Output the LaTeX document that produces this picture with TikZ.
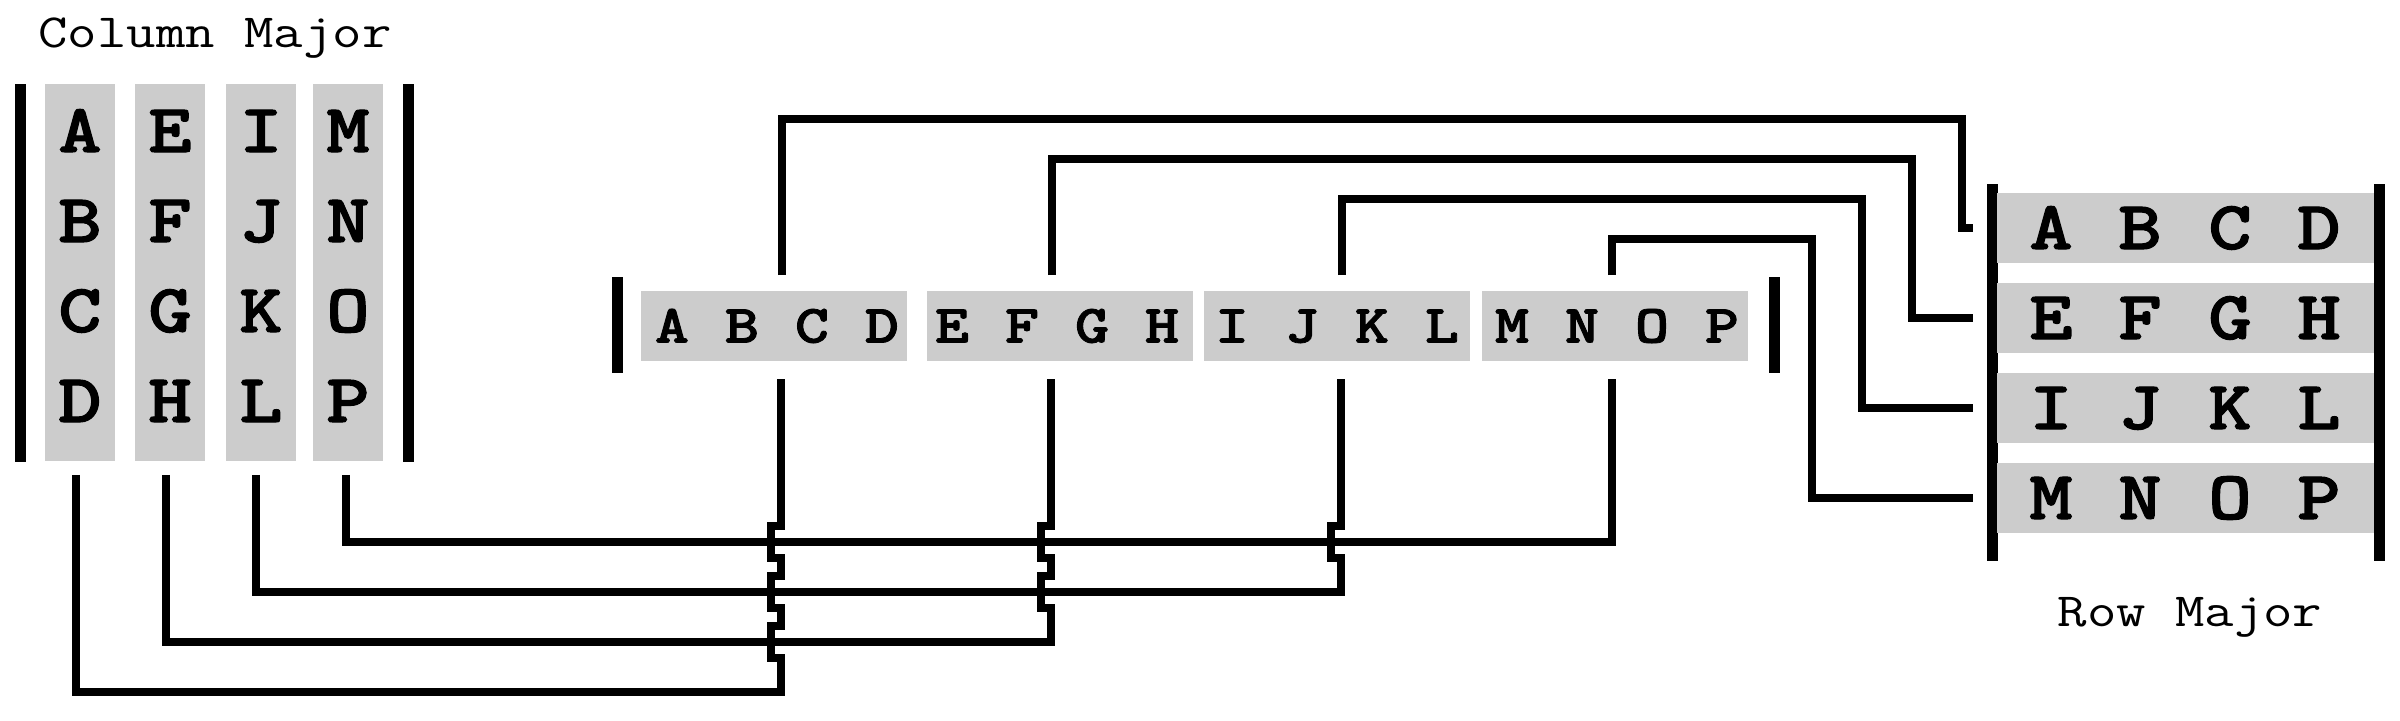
\documentclass[tikz,border=0pt]{standalone}
\usepackage{fontspec}
\usepackage{graphicx}
\usetikzlibrary{calc}
\newfontfamily\typedark{lmmonolt10-bold.otf}[FakeBold=1.5]
\definecolor{cellgray}{RGB}{204,204,204}
% rectangular hop of a vertical wire over a horizontal one at height #2
\newcommand{\hop}[2]{-- (#1,#2+16) -- (#1-10,#2+16) -- (#1-10,#2-16) -- (#1,#2-16)}
\newcommand{\wide}[1]{\scalebox{1.2}[1]{#1}}

\begin{document}
\begin{tikzpicture}[x=0.25pt,y=-0.25pt,inner sep=0pt,
                    wire/.style={line width=1.875pt}]
\tikzstyle{cell}=[fill=cellgray,draw=none]
\tikzstyle{barline}=[fill=black,minimum width=2.75pt]
\tikzstyle{bigchar}=[font=\typedark\fontsize{17.2pt}{20pt}\selectfont,text height=10.5pt,text depth=0pt]
\tikzstyle{smallchar}=[font=\typedark\fontsize{13.5pt}{16pt}\selectfont,text height=8.25pt,text depth=0pt]
\tikzstyle{caption}=[font=\ttfamily\fontsize{11.9pt}{14pt}\selectfont,anchor=base]
\useasboundingbox (0,0) rectangle (2400,720);

% column major
\node[caption] (cmtitle) at (215,47) {\wide{Column Major}};
\node[barline,minimum height=94.5pt] (cmL) at (20.5,273) {};
\node[barline,minimum height=94.5pt] (cmR) at (408.5,273) {};
\foreach \k/\x in {1/80,2/170,3/261,4/348}
  \node[cell,minimum width=17.5pt,minimum height=94.25pt] (cg\k) at (\x,272.5) {};
\foreach \x/\a/\b/\c/\d in {80/A/B/C/D,170/E/F/G/H,261/I/J/K/L,348/M/N/O/P}{
  \node[bigchar] (c\a) at (\x,131) {\wide{\a}};
  \node[bigchar] (c\b) at (\x,221) {\wide{\b}};
  \node[bigchar] (c\c) at (\x,311) {\wide{\c}};
  \node[bigchar] (c\d) at (\x,401) {\wide{\d}};
}

% flat memory
\node[barline,minimum height=24pt] (sL) at (617.5,325) {};
\node[barline,minimum height=24pt] (sR) at (1774.5,325) {};
\foreach \k/\x in {1/774,2/1060,3/1337,4/1615}
  \node[cell,minimum width=66.5pt,minimum height=17.5pt] (sb\k) at (\x,326) {};
\foreach \c [count=\i from 0] in {A,...,P}
  \node[smallchar] (s\c) at (672+70*\i,326) {\wide{\c}};

% row major
\node[barline,minimum height=94.25pt] (rmL) at (1992,372.5) {};
\node[barline,minimum height=94.25pt] (rmR) at (2379,372.5) {};
\foreach \k/\y in {1/228,2/318,3/408,4/498}
  \node[cell,minimum width=94.25pt,minimum height=17.5pt] (rw\k) at (2185.5,\y) {};
\foreach \y/\a/\b/\c/\d in {228/A/B/C/D,318/E/F/G/H,408/I/J/K/L,498/M/N/O/P}{
  \node[bigchar] (r\a) at (2051,\y) {\wide{\a}};
  \node[bigchar] (r\b) at (2140,\y) {\wide{\b}};
  \node[bigchar] (r\c) at (2230,\y) {\wide{\c}};
  \node[bigchar] (r\d) at (2319,\y) {\wide{\d}};
}
\node[caption] (rmtitle) at (2190,626) {\wide{Row Major}};

% flat memory -> rows
\foreach \k/\dx/\ytop/\xr in {1/8/119/1962,2/-8/159/1912,3/5/199/1862,4/-3/239/1812}
  \draw[wire] ($(sb\k.north)+(\dx,-15)$) |- (\xr,\ytop) |- ($(rw\k.west)+(-23,0)$);

% columns -> flat memory
\draw[wire] ($(cg1.south)+(-4,13)$) |- (781,692) \hop{781}{642} \hop{781}{592} \hop{781}{542} -- ($(sb1.south)+(7,17)$);
\draw[wire] ($(cg2.south)+(-4,13)$) |- (1051,642) \hop{1051}{592} \hop{1051}{542} -- ($(sb2.south)+(-9,17)$);
\draw[wire] ($(cg3.south)+(-5,13)$) |- (1341,592) \hop{1341}{542} -- ($(sb3.south)+(4,17)$);
\draw[wire] ($(cg4.south)+(-2,13)$) |- (1612,542) -- ($(sb4.south)+(-3,17)$);
\end{tikzpicture}
\end{document}
